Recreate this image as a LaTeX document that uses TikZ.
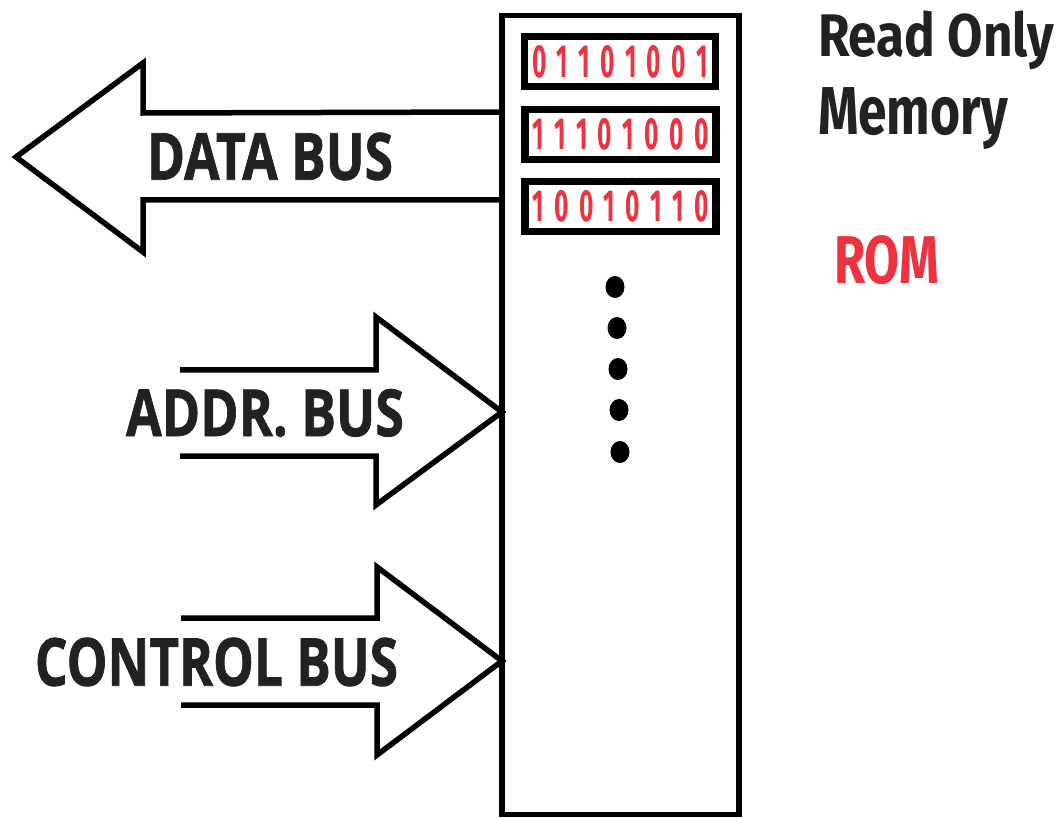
\documentclass[tikz,border=0pt]{standalone}
\usepackage{fontspec}
\usepackage{graphicx}
\newfontfamily\busfont{Open Sans}[FakeBold=1.2]
\newfontfamily\dinfont{Fira Sans}
\newfontfamily\digfont{Fira Sans}
\definecolor{ink}{HTML}{222222}
\definecolor{romred}{HTML}{EE3340}
\newcommand{\dg}{\hspace{0.42em}}
\begin{document}
\begin{tikzpicture}[x=1pt,y=-1pt,
  every node/.style={inner sep=0pt,outer sep=0pt},
  romframe/.style={draw=black,line width=5.5pt,minimum width=237pt,minimum height=799pt},
  wordbox/.style={draw=black,line width=7.5pt,minimum width=191pt,minimum height=50pt,text=romred},
  busarrow/.style={draw=black,line width=5.5pt,line join=miter},
  buslabel/.style={text=ink,font=\busfont\bfseries},
  dotmark/.style={fill=black,draw=none}]
\useasboundingbox[fill=white] (0,0) rectangle (1061,818);
% ROM frame
\node[romframe] (rom) at (620.5,415) {};
% memory words
\node[wordbox] (w1) at (620,61.5) {\resizebox{176pt}{32pt}{\digfont\bfseries 0\dg1\dg1\dg0\dg1\dg0\dg0\dg1}};
\node[wordbox] (w2) at (620.5,134.5) {\resizebox{176pt}{31pt}{\digfont\bfseries 1\dg1\dg1\dg0\dg1\dg0\dg0\dg0}};
\node[wordbox] (w3) at (620.5,206.5) {\resizebox{176pt}{31pt}{\digfont\bfseries 1\dg0\dg0\dg1\dg0\dg1\dg1\dg0}};
% dots
\foreach \i/\px/\py in {1/615/287,2/617/328,3/618/369,4/619/410,5/620/452}
  \fill[dotmark] (\px,\py) ellipse (9.5pt and 11pt) coordinate (d\i);
% data bus arrow (out of ROM)
\coordinate (dtop) at (rom.west |- 0,112);
\coordinate (dbot) at (rom.west |- 0,200);
\draw[busarrow] (dtop) -- (143,113) -- (143,63) -- (16,157) -- (143,252) -- (143,200) -- (dbot);
\node[buslabel] (dlab) at (270,156.5) {\resizebox{246pt}{47pt}{DATA BUS}};
% address bus arrow (into ROM)
\coordinate (atip) at (rom.west |- 0,412);
\draw[busarrow] (180,370) -- (376,370) -- (376,317) -- (atip) -- (376,505) -- (376,456) -- (180,456);
\node[buslabel] (alab) at (265,413) {\resizebox{278pt}{47pt}{ADDR. BUS}};
% control bus arrow (into ROM)
\coordinate (ctip) at (rom.west |- 0,661);
\draw[busarrow] (181,618) -- (377,618) -- (377,567) -- (ctip) -- (377,755) -- (377,705) -- (181,705);
\node[buslabel] (clab) at (216.5,662) {\resizebox{363pt}{48pt}{CONTROL BUS}};
% titles
\node[text=ink,anchor=north west] (t1) at (818,11) {\resizebox*{236pt}{59pt}{\dinfont\bfseries Read Only}};
\node[text=ink,anchor=north west] (t2) at (818,88) {\resizebox*{190pt}{62pt}{\dinfont\bfseries Memory}};
\node[text=romred,anchor=north west] (t3) at (834,235) {\resizebox{105pt}{48pt}{\dinfont\bfseries ROM}};
\end{tikzpicture}
\end{document}
